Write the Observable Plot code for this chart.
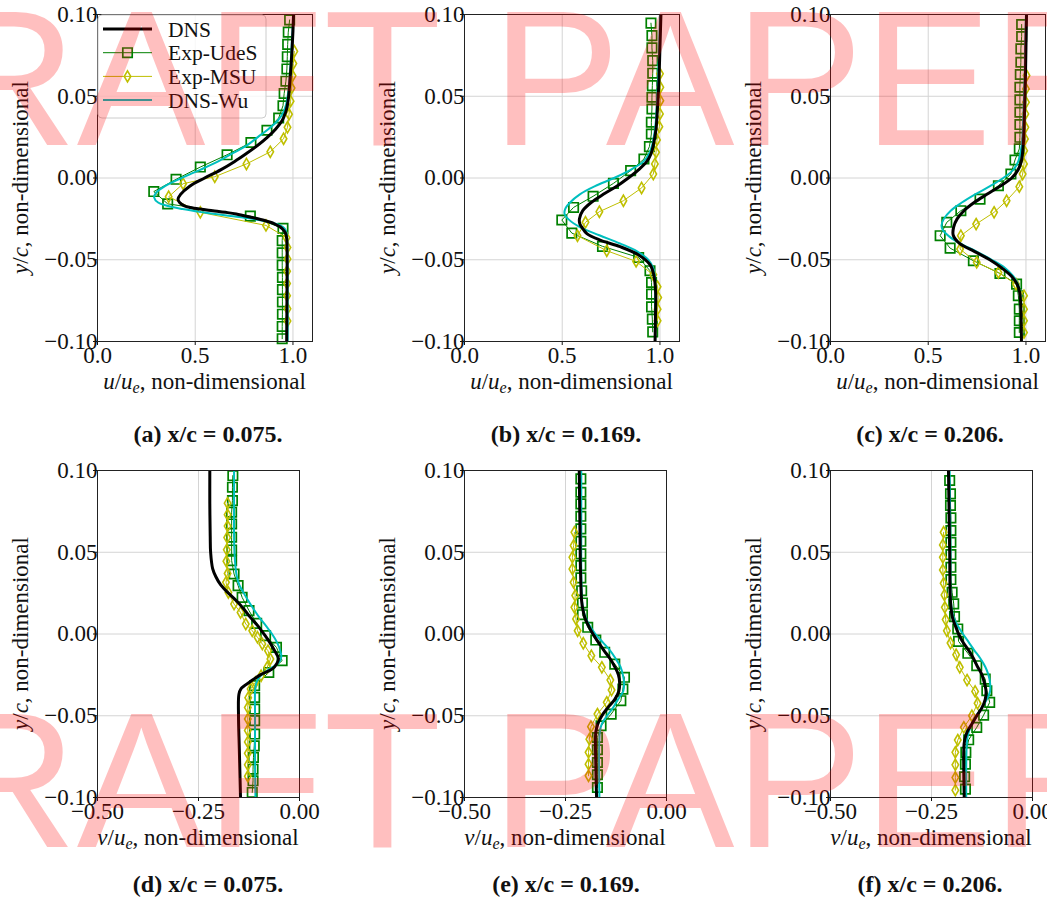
<!DOCTYPE html>
<html><head><meta charset="utf-8">
<script src="https://cdn.jsdelivr.net/npm/d3@7"></script>
<script src="https://cdn.jsdelivr.net/npm/@observablehq/plot@0.6"></script>
<style>
html,body{margin:0;padding:0;background:#fff;overflow:hidden;}
#page{position:relative;width:1047px;height:903px;overflow:hidden;background:#fff;}
.panel{position:absolute;}
svg.overlay{position:absolute;left:0;top:0;pointer-events:none;}
</style></head><body><div id="page"></div>
<script>
// ---------- tick labels / categories ----------
const yTicks = [-0.10, -0.05, 0.00, 0.05, 0.10];
const uTicks = [0.0, 0.5, 1.0];
const vTicks = [-0.50, -0.25, 0.00];
const seriesNames = ["DNS", "Exp-UdeS", "Exp-MSU", "DNS-Wu"];
const panelLetters = ["a", "b", "c", "d", "e", "f"];
const stations = ["0.075", "0.169", "0.206", "0.075", "0.169", "0.206"];

// ---------- (a) u/ue, x/c = 0.075 ----------
const a_dns_y = [0.100,0.090,0.080,0.070,0.060,0.050,0.045,0.040,0.035,0.030,0.025,0.020,0.015,0.010,0.005,0.000,-0.005,-0.010,-0.013,-0.015,-0.017,-0.018,-0.019,-0.020,-0.021,-0.022,-0.024,-0.026,-0.028,-0.030,-0.032,-0.034,-0.037,-0.045,-0.060,-0.080,-0.100];
const a_dns_x = [1.003,1.000,0.996,0.991,0.985,0.978,0.972,0.962,0.944,0.912,0.870,0.820,0.762,0.700,0.630,0.548,0.472,0.425,0.412,0.420,0.445,0.475,0.525,0.590,0.655,0.710,0.785,0.855,0.905,0.935,0.953,0.963,0.968,0.970,0.970,0.969,0.968];
const a_wu_y = [0.100,0.090,0.080,0.070,0.060,0.050,0.045,0.040,0.035,0.030,0.025,0.020,0.015,0.010,0.005,0.000,-0.005,-0.009,-0.012,-0.015,-0.017,-0.019,-0.021,-0.023,-0.025,-0.027,-0.029,-0.031,-0.034,-0.050,-0.080,-0.100];
const a_wu_x = [1.003,0.998,0.993,0.988,0.982,0.973,0.965,0.950,0.922,0.875,0.820,0.765,0.690,0.615,0.525,0.430,0.345,0.300,0.290,0.310,0.355,0.435,0.540,0.660,0.790,0.880,0.935,0.958,0.968,0.972,0.973,0.973];
const a_udes_y = [0.0967,0.0892,0.0817,0.0742,0.0667,0.0592,0.0517,0.0442,0.0367,0.0292,0.0217,0.0142,0.0067,-0.0008,-0.0083,-0.0158,-0.0233,-0.0308,-0.0383,-0.0458,-0.0533,-0.0608,-0.0683,-0.0758,-0.0833,-0.0908,-0.0983];
const a_udes_x = [0.983,0.976,0.973,0.971,0.969,0.964,0.955,0.949,0.927,0.867,0.785,0.663,0.526,0.402,0.288,0.359,0.782,0.949,0.945,0.945,0.945,0.946,0.946,0.946,0.946,0.945,0.945];
const a_msu_y = [0.0775,0.0700,0.0625,0.0550,0.0470,0.0390,0.0310,0.0240,0.0160,0.0086,0.0008,-0.0035,-0.0115,-0.0210,-0.0290,-0.0365,-0.0425,-0.0495,-0.0570,-0.0645,-0.0720,-0.0800,-0.0875];
const a_msu_x = [1.007,1.002,0.998,0.993,0.988,0.980,0.972,0.952,0.884,0.762,0.600,0.438,0.364,0.526,0.862,0.967,0.972,0.972,0.970,0.970,0.970,0.972,0.972];

// ---------- (b) u/ue, x/c = 0.169 ----------
const b_dns_y = [0.100,0.080,0.060,0.050,0.040,0.030,0.020,0.015,0.010,0.005,0.000,-0.005,-0.010,-0.015,-0.020,-0.025,-0.028,-0.030,-0.034,-0.038,-0.042,-0.047,-0.053,-0.059,-0.070,-0.085,-0.100];
const b_dns_x = [1.005,1.000,0.995,0.991,0.986,0.980,0.966,0.955,0.932,0.890,0.838,0.779,0.710,0.648,0.605,0.588,0.590,0.600,0.626,0.694,0.796,0.889,0.949,0.968,0.978,0.977,0.975];
const b_wu_y = [0.100,0.080,0.060,0.040,0.030,0.020,0.015,0.010,0.005,0.000,-0.005,-0.010,-0.015,-0.019,-0.022,-0.025,-0.030,-0.035,-0.040,-0.045,-0.050,-0.055,-0.060,-0.080,-0.100];
const b_wu_x = [1.000,0.996,0.990,0.982,0.975,0.960,0.945,0.915,0.850,0.765,0.668,0.590,0.540,0.515,0.512,0.530,0.590,0.690,0.795,0.885,0.940,0.965,0.974,0.975,0.975];
const b_udes_y = [0.0947,0.0871,0.0796,0.0718,0.0641,0.0565,0.0494,0.0422,0.0341,0.0269,0.0192,0.0116,0.0045,-0.0033,-0.0112,-0.0180,-0.0257,-0.0337,-0.0418,-0.0486,-0.0567,-0.0639,-0.0710,-0.0788,-0.0863,-0.0941];
const b_udes_x = [0.954,0.959,0.959,0.963,0.963,0.961,0.959,0.959,0.956,0.956,0.946,0.918,0.850,0.762,0.658,0.558,0.498,0.549,0.706,0.891,0.949,0.957,0.957,0.957,0.961,0.963];
const b_msu_y = [0.0637,0.0555,0.0473,0.0392,0.0314,0.0233,0.0157,0.0086,0.0024,-0.0061,-0.0139,-0.0206,-0.0271,-0.0353,-0.0445,-0.0510,-0.0592,-0.0665,-0.0731,-0.0802,-0.0873];
const b_msu_x = [1.000,1.002,1.002,1.000,0.997,0.985,0.980,0.974,0.966,0.906,0.813,0.690,0.619,0.578,0.728,0.878,0.966,0.988,0.991,0.988,0.988];

// ---------- (c) u/ue, x/c = 0.206 ----------
const c_dns_y = [0.100,0.080,0.060,0.050,0.030,0.020,0.010,0.005,0.000,-0.005,-0.010,-0.015,-0.020,-0.025,-0.030,-0.035,-0.040,-0.045,-0.050,-0.055,-0.060,-0.065,-0.070,-0.080,-0.100];
const c_dns_x = [1.003,1.000,0.997,0.995,0.990,0.986,0.976,0.960,0.927,0.867,0.800,0.735,0.683,0.648,0.630,0.628,0.660,0.738,0.815,0.876,0.925,0.955,0.968,0.974,0.977];
const c_wu_y = [0.100,0.080,0.060,0.050,0.030,0.020,0.010,0.005,0.000,-0.005,-0.010,-0.015,-0.020,-0.025,-0.029,-0.032,-0.036,-0.040,-0.045,-0.050,-0.055,-0.060,-0.065,-0.070,-0.100];
const c_wu_x = [1.000,0.996,0.993,0.990,0.984,0.978,0.960,0.935,0.884,0.816,0.740,0.672,0.615,0.580,0.568,0.575,0.610,0.663,0.748,0.825,0.893,0.935,0.960,0.970,0.975];
const c_udes_y = [0.0939,0.0865,0.0790,0.0708,0.0633,0.0555,0.0478,0.0402,0.0327,0.0249,0.0178,0.0110,0.0024,-0.0047,-0.0129,-0.0200,-0.0271,-0.0353,-0.0429,-0.0506,-0.0584,-0.0649,-0.0720,-0.0802,-0.0873,-0.0945];
const c_udes_x = [0.978,0.978,0.974,0.974,0.971,0.969,0.969,0.969,0.969,0.969,0.966,0.944,0.923,0.859,0.765,0.667,0.595,0.561,0.612,0.731,0.867,0.952,0.961,0.966,0.966,0.966];
const c_msu_y = [0.0627,0.0545,0.0463,0.0392,0.0310,0.0239,0.0167,0.0086,0.0024,-0.0053,-0.0139,-0.0210,-0.0282,-0.0353,-0.0435,-0.0516,-0.0578,-0.0649,-0.0720,-0.0802,-0.0873,-0.0945];
const c_msu_x = [1.003,1.000,1.000,0.997,0.997,0.995,0.991,0.990,0.983,0.966,0.901,0.837,0.745,0.667,0.663,0.748,0.859,0.949,0.990,0.990,0.990,0.990];

// ---------- (d) v/ue, x/c = 0.075 ----------
const d_dns_y = [0.100,0.080,0.060,0.050,0.040,0.035,0.030,0.025,0.020,0.015,0.010,0.005,0.000,-0.005,-0.010,-0.015,-0.018,-0.0215,-0.025,-0.029,-0.0335,-0.037,-0.050,-0.070,-0.100];
const d_dns_x = [-0.222,-0.222,-0.221,-0.220,-0.215,-0.207,-0.195,-0.176,-0.155,-0.137,-0.121,-0.103,-0.088,-0.074,-0.062,-0.052,-0.056,-0.068,-0.097,-0.121,-0.145,-0.150,-0.151,-0.149,-0.146];
const d_wu_y = [0.100,0.080,0.060,0.050,0.040,0.035,0.030,0.025,0.020,0.015,0.010,0.005,0.000,-0.005,-0.010,-0.014,-0.018,-0.022,-0.026,-0.030,-0.035,-0.050,-0.080,-0.100];
const d_wu_x = [-0.162,-0.162,-0.162,-0.161,-0.158,-0.155,-0.149,-0.138,-0.126,-0.113,-0.099,-0.083,-0.068,-0.056,-0.048,-0.045,-0.053,-0.078,-0.098,-0.107,-0.110,-0.110,-0.110,-0.109];
const d_udes_y = [0.0969,0.0898,0.0816,0.0745,0.0673,0.0592,0.0514,0.0449,0.0367,0.0296,0.0224,0.0143,0.0065,-0.0010,-0.0082,-0.0163,-0.0235,-0.0316,-0.0388,-0.0459,-0.0530,-0.0612,-0.0684,-0.0755,-0.0827,-0.0898,-0.0969];
const d_udes_x = [-0.165,-0.166,-0.166,-0.168,-0.168,-0.168,-0.168,-0.168,-0.162,-0.152,-0.142,-0.125,-0.106,-0.084,-0.057,-0.043,-0.076,-0.111,-0.111,-0.111,-0.111,-0.111,-0.112,-0.114,-0.115,-0.115,-0.117];
const d_msu_y = [0.0800,0.0730,0.0660,0.0590,0.0515,0.0445,0.0370,0.0316,0.0254,0.0183,0.0132,0.0061,0.0020,-0.0020,-0.0061,-0.0102,-0.0153,-0.0204,-0.0255,-0.0296,-0.0336,-0.0390,-0.0450,-0.0520,-0.0590,-0.0660,-0.0730,-0.0800,-0.0870];
const d_msu_x = [-0.178,-0.178,-0.178,-0.179,-0.180,-0.181,-0.178,-0.182,-0.176,-0.162,-0.146,-0.133,-0.117,-0.104,-0.092,-0.078,-0.072,-0.080,-0.095,-0.109,-0.121,-0.127,-0.128,-0.128,-0.128,-0.128,-0.128,-0.128,-0.128];

// ---------- (e) v/ue, x/c = 0.169 ----------
const e_dns_y = [0.100,0.080,0.060,0.040,0.020,0.015,0.010,0.005,0.000,-0.005,-0.010,-0.015,-0.020,-0.025,-0.030,-0.035,-0.040,-0.045,-0.050,-0.055,-0.060,-0.080,-0.100];
const e_dns_x = [-0.216,-0.215,-0.214,-0.213,-0.210,-0.207,-0.202,-0.193,-0.182,-0.169,-0.155,-0.140,-0.128,-0.119,-0.116,-0.118,-0.128,-0.145,-0.160,-0.170,-0.175,-0.175,-0.173];
const e_wu_y = [0.100,0.080,0.060,0.040,0.020,0.015,0.010,0.005,0.000,-0.005,-0.010,-0.015,-0.020,-0.025,-0.030,-0.035,-0.040,-0.045,-0.050,-0.055,-0.060,-0.100];
const e_wu_x = [-0.211,-0.211,-0.211,-0.211,-0.209,-0.206,-0.200,-0.190,-0.176,-0.158,-0.140,-0.126,-0.114,-0.108,-0.105,-0.107,-0.120,-0.132,-0.147,-0.160,-0.165,-0.166];
const e_udes_y = [0.0949,0.0867,0.0796,0.0720,0.0643,0.0567,0.0490,0.0418,0.0343,0.0265,0.0190,0.0118,0.0041,-0.0037,-0.0112,-0.0184,-0.0265,-0.0337,-0.0408,-0.0490,-0.0561,-0.0633,-0.0708,-0.0786,-0.0861,-0.0939];
const e_udes_x = [-0.212,-0.212,-0.212,-0.212,-0.212,-0.212,-0.212,-0.212,-0.212,-0.210,-0.208,-0.208,-0.195,-0.175,-0.153,-0.128,-0.104,-0.108,-0.113,-0.137,-0.162,-0.171,-0.171,-0.171,-0.171,-0.171];
const e_msu_y = [0.0622,0.0541,0.0469,0.0398,0.0316,0.0235,0.0163,0.0092,0.0020,-0.0057,-0.0133,-0.0204,-0.0282,-0.0343,-0.0418,-0.0490,-0.0567,-0.0643,-0.0724,-0.0796,-0.0867];
const e_msu_x = [-0.228,-0.230,-0.233,-0.233,-0.230,-0.226,-0.228,-0.224,-0.220,-0.206,-0.186,-0.160,-0.139,-0.136,-0.148,-0.171,-0.187,-0.191,-0.193,-0.193,-0.193];

// ---------- (f) v/ue, x/c = 0.206 ----------
const f_dns_y = [0.100,0.050,0.020,0.010,0.005,0.000,-0.005,-0.010,-0.015,-0.020,-0.025,-0.030,-0.035,-0.040,-0.045,-0.050,-0.055,-0.060,-0.065,-0.070,-0.100];
const f_dns_x = [-0.208,-0.205,-0.203,-0.198,-0.191,-0.183,-0.172,-0.158,-0.146,-0.136,-0.125,-0.119,-0.115,-0.117,-0.125,-0.138,-0.150,-0.162,-0.168,-0.170,-0.169];
const f_wu_y = [0.100,0.050,0.020,0.010,0.005,0.000,-0.005,-0.010,-0.015,-0.020,-0.025,-0.030,-0.035,-0.040,-0.045,-0.050,-0.055,-0.060,-0.065,-0.100];
const f_wu_x = [-0.205,-0.203,-0.202,-0.195,-0.185,-0.172,-0.158,-0.144,-0.129,-0.117,-0.109,-0.105,-0.105,-0.113,-0.125,-0.138,-0.150,-0.158,-0.162,-0.164];
const f_udes_y = [0.0939,0.0857,0.0786,0.0710,0.0633,0.0561,0.0486,0.0408,0.0333,0.0255,0.0184,0.0106,0.0031,-0.0045,-0.0118,-0.0194,-0.0276,-0.0347,-0.0418,-0.0496,-0.0571,-0.0647,-0.0724,-0.0796,-0.0873,-0.0949];
const f_udes_x = [-0.205,-0.203,-0.203,-0.202,-0.202,-0.202,-0.202,-0.202,-0.202,-0.199,-0.195,-0.193,-0.185,-0.183,-0.160,-0.138,-0.117,-0.113,-0.106,-0.121,-0.138,-0.158,-0.165,-0.166,-0.168,-0.166];
const f_msu_y = [0.0622,0.0545,0.0469,0.0392,0.0310,0.0239,0.0163,0.0088,0.0020,-0.0055,-0.0127,-0.0204,-0.0282,-0.0351,-0.0424,-0.0500,-0.0571,-0.0649,-0.0724,-0.0800,-0.0878,-0.0955];
const f_msu_x = [-0.220,-0.222,-0.222,-0.222,-0.220,-0.218,-0.217,-0.215,-0.212,-0.203,-0.189,-0.180,-0.162,-0.142,-0.136,-0.150,-0.170,-0.185,-0.191,-0.191,-0.191,-0.191];

// ---------- layout & styles ----------
const colLeft = [97, 464, 830];
const rowTop = [14, 470];
const frameH = 327;
const uWidth = 215, vWidth = 202;
const colors = {dns: "#000000", udes: "#008000", msu: "#bfbf00", wu: "#00bfbf"};
const serif = "'Liberation Serif', 'Times New Roman', serif";
const captionX = [208, 566, 930];
const captionBase = [442, 892];

const rows = (ys, xs) => ys.map((y, i) => ({y, x: xs[i]}));
const panels = [
  {col:0,row:0,kind:"u",dns:rows(a_dns_y,a_dns_x),wu:rows(a_wu_y,a_wu_x),udes:rows(a_udes_y,a_udes_x),msu:rows(a_msu_y,a_msu_x)},
  {col:1,row:0,kind:"u",dns:rows(b_dns_y,b_dns_x),wu:rows(b_wu_y,b_wu_x),udes:rows(b_udes_y,b_udes_x),msu:rows(b_msu_y,b_msu_x)},
  {col:2,row:0,kind:"u",dns:rows(c_dns_y,c_dns_x),wu:rows(c_wu_y,c_wu_x),udes:rows(c_udes_y,c_udes_x),msu:rows(c_msu_y,c_msu_x)},
  {col:0,row:1,kind:"v",dns:rows(d_dns_y,d_dns_x),wu:rows(d_wu_y,d_wu_x),udes:rows(d_udes_y,d_udes_x),msu:rows(d_msu_y,d_msu_x)},
  {col:1,row:1,kind:"v",dns:rows(e_dns_y,e_dns_x),wu:rows(e_wu_y,e_wu_x),udes:rows(e_udes_y,e_udes_x),msu:rows(e_msu_y,e_msu_x)},
  {col:2,row:1,kind:"v",dns:rows(f_dns_y,f_dns_x),wu:rows(f_wu_y,f_wu_x),udes:rows(f_udes_y,f_udes_x),msu:rows(f_msu_y,f_msu_x)}
];

const page = document.getElementById("page");
const ml = 72, mr = 20, mt = 14, mb = 36;

for (const p of panels) {
  const isU = p.kind === "u";
  const fw = isU ? uWidth : vWidth;
  const xt = isU ? uTicks : vTicks;
  const chart = Plot.plot({
    width: ml + fw + mr,
    height: mt + frameH + mb,
    marginLeft: ml, marginRight: mr, marginTop: mt, marginBottom: mb,
    x: {domain: isU ? [0, 1.1] : [-0.5, 0]},
    y: {domain: [-0.1, 0.1]},
    style: {fontFamily: serif, fontSize: "23px", color: "#111", background: "transparent", overflow: "visible", maxWidth: "none"},
    marks: [
      Plot.gridX(xt, {stroke: "#d4d4d4", strokeOpacity: 1, strokeWidth: 1}),
      Plot.gridY(yTicks, {stroke: "#d4d4d4", strokeOpacity: 1, strokeWidth: 1}),
      Plot.axisX({ticks: xt, tickFormat: d3.format(isU ? ".1f" : ".2f"), tickSize: 4, tickPadding: 1.5, label: null}),
      Plot.axisY({ticks: yTicks, tickFormat: d3.format(".2f"), tickSize: 4, tickPadding: -4, label: null}),
      Plot.line(p.udes, {x: "x", y: "y", stroke: colors.udes, strokeWidth: 1}),
      Plot.dot(p.udes, {x: "x", y: "y", symbol: "square", r: 5.3, stroke: colors.udes, strokeWidth: 1.7, fill: "none"}),
      Plot.line(p.msu, {x: "x", y: "y", stroke: colors.msu, strokeWidth: 1}),
      Plot.dot(p.msu, {x: "x", y: "y", symbol: "diamond", r: 3.4, stroke: colors.msu, strokeWidth: 1.6, fill: "none"}),
      Plot.line(p.wu, {x: "x", y: "y", curve: "catmull-rom", stroke: colors.wu, strokeWidth: 2, clip: true}),
      Plot.line(p.dns, {x: "x", y: "y", curve: "catmull-rom", stroke: colors.dns, strokeWidth: 3, clip: true}),
      Plot.frame({stroke: "#222", strokeWidth: 1})
    ]
  });
  const div = document.createElement("div");
  div.className = "panel";
  div.style.left = (colLeft[p.col] - ml) + "px";
  div.style.top = (rowTop[p.row] - mt) + "px";
  div.appendChild(chart);
  page.appendChild(div);
}

// ---------- overlay: legend, axis labels, captions, watermark ----------
const ov = d3.select(page).append("svg").attr("class", "overlay")
  .attr("width", 1047).attr("height", 903)
  .style("font-family", serif).style("fill", "#111");

// legend (panel a)
const lg = ov.append("g");
lg.append("rect").attr("x", 98).attr("y", 15).attr("width", 168).attr("height", 103).attr("rx", 4)
  .attr("fill", "white").attr("fill-opacity", 0.8).attr("stroke", "#cccccc").attr("stroke-width", 1);
const legendKeys = ["dns", "udes", "msu", "wu"];
const legendWidths = [3, 1, 1, 2];
seriesNames.forEach((name, i) => {
  const yy = 29 + i * 23.7;
  const key = legendKeys[i];
  lg.append("line").attr("x1", 103).attr("x2", 152).attr("y1", yy).attr("y2", yy)
    .attr("stroke", colors[key]).attr("stroke-width", legendWidths[i]);
  if (key === "udes") {
    lg.append("path").attr("d", d3.symbol(d3.symbolSquare, 5.3 * 5.3 * Math.PI)())
      .attr("transform", `translate(127.5,${yy})`).attr("fill", "none").attr("stroke", colors.udes).attr("stroke-width", 1.7);
  }
  if (key === "msu") {
    lg.append("path").attr("d", d3.symbol(d3.symbolDiamond, 3.4 * 3.4 * Math.PI)())
      .attr("transform", `translate(127.5,${yy})`).attr("fill", "none").attr("stroke", colors.msu).attr("stroke-width", 1.6);
  }
  lg.append("text").attr("x", 168).attr("y", yy + 7.5).attr("font-size", 21.5).text(name);
});

// axis labels
panels.forEach((p) => {
  const fl = colLeft[p.col], ft = rowTop[p.row];
  const fw = p.kind === "u" ? uWidth : vWidth;
  const xl = ov.append("text").attr("x", fl + fw / 2).attr("y", ft + frameH + 48)
    .attr("text-anchor", "middle").attr("font-size", 23);
  xl.append("tspan").attr("font-style", "italic").text(p.kind === "u" ? "u" : "v");
  xl.append("tspan").text("/");
  xl.append("tspan").attr("font-style", "italic").text("u");
  xl.append("tspan").attr("font-style", "italic").attr("font-size", 16).attr("dy", 4).text("e");
  xl.append("tspan").attr("dy", -4).text(", non-dimensional");

  const yl = ov.append("text").attr("transform", `translate(${fl - 69.5},${ft + frameH / 2}) rotate(-90)`)
    .attr("text-anchor", "middle").attr("font-size", 23);
  yl.append("tspan").attr("font-style", "italic").text("y");
  yl.append("tspan").text("/");
  yl.append("tspan").attr("font-style", "italic").text("c");
  yl.append("tspan").text(", non-dimensional");
});

// captions
panels.forEach((p, i) => {
  ov.append("text").attr("x", captionX[p.col]).attr("y", captionBase[p.row])
    .attr("text-anchor", "middle").attr("font-size", 24).attr("font-weight", "bold")
    .text(`(${panelLetters[i]}) x/c = ${stations[i]}.`);
});

// watermark
[145, 847].forEach((yy) => {
  ov.append("text").attr("x", -202).attr("y", yy)
    .attr("font-family", "'Liberation Sans', Arial, sans-serif").attr("font-size", 193)
    .attr("fill", "#ff0000").attr("fill-opacity", 0.25).style("white-space", "pre")
    .text("DRAFT PAPER");
});
</script></body></html>
